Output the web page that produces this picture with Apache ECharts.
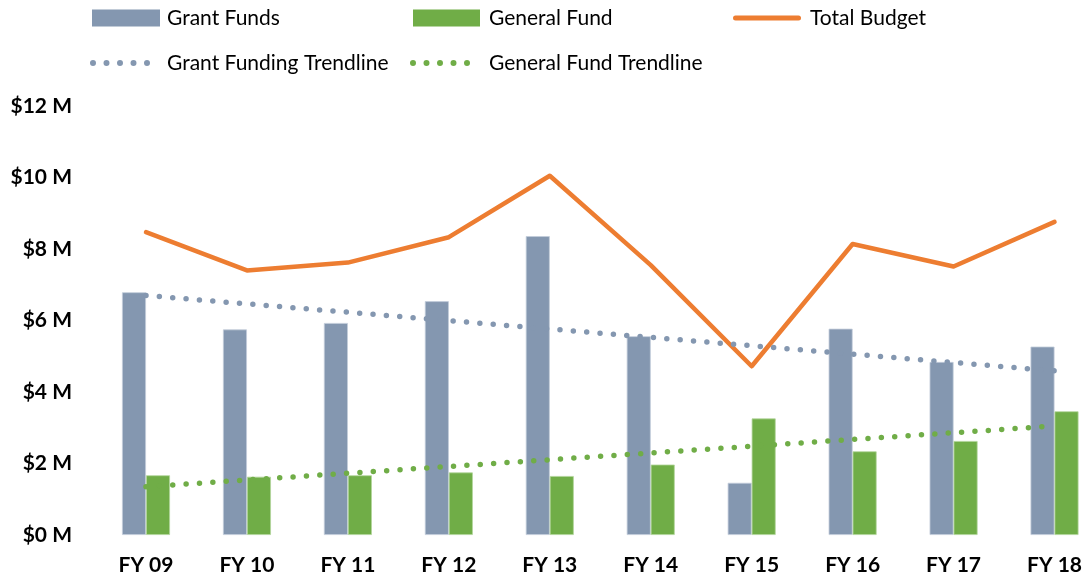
<!DOCTYPE html>
<html>
<head>
<meta charset="utf-8">
<script src="https://cdn.jsdelivr.net/npm/echarts@6/dist/echarts.min.js"></script>
<style>
  html, body { margin: 0; padding: 0; background: #fff; }
  #budget-chart { width: 1085px; height: 578px; }
</style>
</head>
<body>
<div id="budget-chart"></div>
<script>
// values in $ millions
const years = ['FY 09', 'FY 10', 'FY 11', 'FY 12', 'FY 13', 'FY 14', 'FY 15', 'FY 16', 'FY 17', 'FY 18'];
const grantFunds = [6.79, 5.75, 5.93, 6.54, 8.36, 5.56, 1.46, 5.77, 4.84, 5.27];
const generalFund = [1.67, 1.63, 1.67, 1.75, 1.65, 1.97, 3.26, 2.34, 2.63, 3.46];
const totalBudget = [8.47, 7.40, 7.62, 8.33, 10.05, 7.55, 4.72, 8.14, 7.51, 8.76];
// trendlines: only the two end points, the straight line is drawn between them
const grantTrend = [6.70, null, null, null, null, null, null, null, null, 4.59];
const generalTrend = [1.35, null, null, null, null, null, null, null, null, 3.05];
const yTicks = [0, 2, 4, 6, 8, 10, 12];

const BLUE = '#8497B0';
const GREEN = '#70AD47';
const ORANGE = '#ED7D31';
const FONT = 'Lato';

// legend icon paths
const dotsIcon = 'path://M0,3a3,3 0 1,0 6,0a3,3 0 1,0 -6,0z' +
  'M13.5,3a3,3 0 1,0 6,0a3,3 0 1,0 -6,0z' +
  'M27,3a3,3 0 1,0 6,0a3,3 0 1,0 -6,0z' +
  'M40.5,3a3,3 0 1,0 6,0a3,3 0 1,0 -6,0z' +
  'M54,3a3,3 0 1,0 6,0a3,3 0 1,0 -6,0z';
const lineIcon = 'path://M2.5,0L65.5,0A2.5,2.5 0 0,1 65.5,5L2.5,5A2.5,2.5 0 0,1 2.5,0z';

const myChart = echarts.init(document.getElementById('budget-chart'));

const dotted = (color) => ({ color: color, width: 5.5, type: [0, 13.4], cap: 'round' });

function legendItem(name, color, left, top, w, h, icon, textPad) {
  return {
    data: [{
      name: name,
      icon: icon,
      itemStyle: { color: color, borderWidth: 0 },
      lineStyle: { width: 0, opacity: 0 }
    }],
    left: left,
    top: top,
    padding: 0,
    itemWidth: w,
    itemHeight: h,
    selectedMode: false,
    textStyle: { fontFamily: FONT, fontSize: 21, color: '#000', lineHeight: 24, padding: [0, 0, 0, textPad] }
  };
}

myChart.setOption({
  animation: false,
  textStyle: { fontFamily: FONT },
  legend: [
    legendItem('Grant Funds', BLUE, 92, 6, 68, 17, 'rect', 2),
    legendItem('General Fund', GREEN, 413, 6, 67, 17, 'rect', 4),
    legendItem('Total Budget', ORANGE, 733, 6, 68, 5, lineIcon, 4),
    legendItem('Grant Funding Trendline', BLUE, 90, 51, 60, 6, dotsIcon, 12),
    legendItem('General Fund Trendline', GREEN, 410, 51, 60, 6, dotsIcon, 14)
  ],
  grid: { left: 146, right: 28, top: 106, bottom: 43 },
  xAxis: {
    type: 'category',
    data: years,
    boundaryGap: false,
    axisLine: { show: false },
    axisTick: { show: false },
    axisLabel: { margin: 20, fontFamily: FONT, fontSize: 21, fontWeight: 'bold', color: '#000' }
  },
  yAxis: {
    type: 'value',
    min: yTicks[0],
    max: yTicks[yTicks.length - 1],
    interval: 2,
    splitLine: { show: false },
    axisLine: { show: false },
    axisTick: { show: false },
    axisLabel: {
      margin: 74,
      fontFamily: FONT,
      fontSize: 21,
      fontWeight: 'bold',
      color: '#000',
      formatter: function (value) {
        return '$' + value + ' M';
      }
    }
  },
  series: [
    {
      name: 'Grant Funds',
      type: 'bar',
      data: grantFunds,
      barWidth: 24,
      barGap: '0%',
      itemStyle: { color: BLUE, borderColor: '#c3cddb', borderWidth: 0.8 },
      z: 1
    },
    {
      name: 'General Fund',
      type: 'bar',
      data: generalFund,
      barWidth: 24,
      barGap: '0%',
      itemStyle: { color: GREEN, borderColor: '#b3d69c', borderWidth: 0.8 },
      z: 1
    },
    {
      name: 'Total Budget',
      type: 'line',
      data: totalBudget,
      symbol: 'none',
      lineStyle: { color: ORANGE, width: 4.5, cap: 'round', join: 'round' },
      itemStyle: { color: ORANGE },
      z: 3
    },
    {
      name: 'Grant Funding Trendline',
      type: 'line',
      data: grantTrend,
      connectNulls: true,
      symbol: 'none',
      lineStyle: dotted(BLUE),
      itemStyle: { color: BLUE },
      z: 4
    },
    {
      name: 'General Fund Trendline',
      type: 'line',
      data: generalTrend,
      connectNulls: true,
      symbol: 'none',
      lineStyle: dotted(GREEN),
      itemStyle: { color: GREEN },
      z: 4
    }
  ]
});
</script>
</body>
</html>
